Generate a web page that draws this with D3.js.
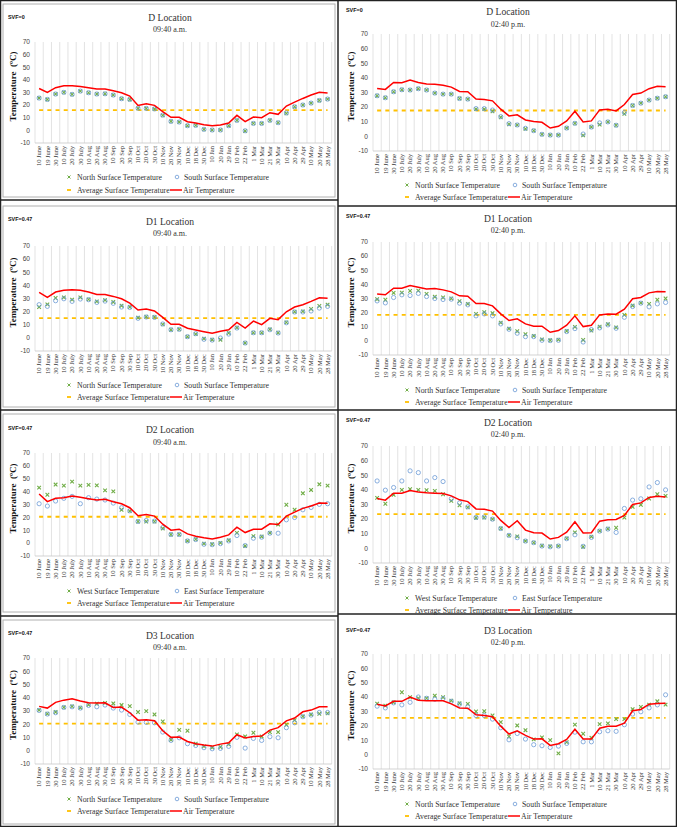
<!DOCTYPE html>
<html>
<head>
<meta charset="utf-8">
<script src="https://cdn.jsdelivr.net/npm/d3@7"></script>
<style>
  body { margin: 0; background: #fff; }
  svg { display: block; }
</style>
</head>
<body>
<svg id="chart" width="677" height="827"></svg>
<script>
const categories = ['10 June','19 June','30 June','10 July','20 July','30 July','10 Aug','20 Aug','30 Aug',
  '10 Sep','20 Sep','30 Sep','10 Oct','20 Oct','30 Oct','10 Nov','20 Nov','30 Nov','10 Dec','18 Dec','30 Dec',
  '10 Jan','20 Jan','29 Jan','10 Feb','22 Feb','1 Mar','10 Mar','21 Mar','30 Mar','10 Apr','20 Apr','29 Apr',
  '10 May','20 May','28 May'];
const yTicks = [-10, 0, 10, 20, 30, 40, 50, 60, 70];

// D location
const dAmAir   = [33.2,30.1,33.8,35.4,35.4,34.8,33.8,32.7,32.7,31.4,29.8,27.2,19.8,21.1,19.8,14.8,10.3,10.3,6.9,5.8,4.5,3.7,4.2,5.8,11.9,6.9,10.6,10.0,14.0,12.7,19.3,22.4,25.3,28.0,30.1,29.6];
const dAmNorth = [25.6,24.5,28.8,30.1,28.5,31.1,29.8,28.8,29.0,28.0,25.1,24.5,17.4,17.4,16.9,11.9,7.1,6.6,3.7,4.0,0.8,0.3,0.3,3.7,7.9,-0.5,5.5,5.5,7.9,6.1,13.5,18.7,20.1,21.6,23.7,24.8];
const dAmSouth = [25.6,24.5,28.8,30.1,28.5,31.1,29.8,28.8,29.0,28.0,25.1,24.5,17.6,17.4,17.0,12.1,7.1,6.6,3.7,4.0,0.8,0.3,0.3,3.7,7.9,-0.3,5.5,5.5,7.9,6.1,13.8,18.7,20.1,21.6,23.7,24.8];
const dPmAir   = [32.8,32.1,36.9,36.7,38.5,36.9,35.8,35.6,34.9,33.7,30.7,30.5,25.5,25.2,24.3,18.6,14.0,14.7,11.2,10.1,9.6,5.7,6.9,10.6,17.2,9.9,10.6,18.1,18.6,17.4,21.8,28.7,29.6,32.6,34.2,33.9];
const dPmNorth = [27.8,26.4,30.5,31.9,31.7,32.6,31.7,29.6,28.9,28.9,25.9,25.5,18.6,18.6,17.2,13.1,8.3,7.8,5.1,3.9,1.4,0.9,0.9,5.7,8.9,0.7,6.4,8.0,9.9,7.6,15.4,21.1,22.7,24.8,26.1,27.1];
const dPmSouth = [27.8,26.4,30.5,31.9,31.7,32.6,31.7,29.6,28.9,28.9,25.9,25.5,19.0,19.0,18.0,13.5,8.7,7.8,5.5,3.9,1.4,0.9,0.9,5.7,8.9,1.6,6.4,9.2,9.9,7.6,16.3,21.1,22.7,24.8,26.1,27.1];

// D1 location
const d1AmAir   = [34.7,30.9,34.9,36.2,36.7,36.2,34.9,33.1,33.1,31.6,29.8,26.5,21.2,22.0,20.5,15.6,10.3,10.3,7.3,6.0,4.7,3.5,5.0,6.2,11.8,7.5,12.8,10.1,14.9,13.9,19.9,23.5,25.3,27.8,30.6,30.1];
const d1AmNorth = [23.5,25.5,30.4,30.9,29.1,30.9,29.3,27.8,28.8,27.3,24.5,23.5,15.4,16.1,15.9,10.3,6.2,6.5,0.9,2.9,-0.6,-1.4,-1.4,3.7,7.8,-3.9,3.9,3.9,6.5,3.9,11.8,19.9,20.2,22.0,24.3,25.3];
const d1AmSouth = [25.3,24.0,28.3,29.8,27.8,29.6,29.1,27.0,28.0,26.3,23.5,23.2,14.9,15.9,15.6,10.6,6.2,6.5,0.9,3.2,-1.1,-1.7,-0.1,2.9,7.5,-3.9,3.9,3.9,6.2,3.7,11.5,19.7,19.7,20.5,22.7,24.0];
const d1PmAir   = [33.1,32.6,37.3,37.3,39.2,38.0,36.8,37.1,36.1,34.7,31.9,31.6,26.4,26.4,24.8,19.1,14.4,15.6,12.0,10.4,10.4,6.1,7.3,11.1,17.7,10.1,11.1,18.4,19.1,18.9,22.4,29.8,30.7,34.0,35.0,34.7];
const d1PmNorth = [29.5,29.1,34.0,34.2,35.4,35.6,33.3,31.2,30.7,30.0,28.1,26.2,19.1,20.3,19.6,12.9,8.7,6.8,4.7,3.5,1.1,0.4,0.9,7.0,9.9,0.6,7.3,10.1,11.8,9.6,18.4,25.0,26.9,26.2,29.1,30.0];
const d1PmSouth = [28.3,26.9,30.7,32.6,32.1,33.6,31.4,30.0,29.3,29.5,26.7,25.5,17.7,19.1,17.7,12.0,8.2,5.4,3.0,3.0,0.4,0.2,0.4,6.6,8.7,-0.8,8.0,9.2,11.3,8.9,16.7,24.3,26.7,24.1,26.2,27.2];

// D2 location (west / east walls)
const d2AmAir  = [38.2,32.2,34.8,35.3,36.6,35.6,34.5,33.5,34.0,32.2,30.6,27.5,21.3,22.3,21.0,14.7,10.1,10.8,7.2,5.4,4.1,3.3,4.6,6.4,12.4,8.2,10.8,10.8,15.0,14.5,21.0,24.1,27.0,28.8,31.1,30.9];
const d2AmWest = [43.1,37.6,45.5,44.7,47.8,44.7,45.2,44.9,41.0,40.2,25.9,24.9,16.8,16.8,16.8,11.4,6.7,6.7,1.7,3.0,-0.4,-0.9,0.2,2.2,8.0,-2.2,5.4,5.1,8.0,14.5,29.8,25.9,38.7,41.3,45.7,44.7];
const d2AmEast = [30.6,28.8,32.7,34.8,36.3,30.6,35.3,34.2,33.5,31.1,27.5,25.1,16.8,17.6,17.1,12.1,6.7,6.7,1.7,2.8,-0.9,-1.2,-0.4,1.7,5.9,-1.9,3.8,4.6,7.7,7.7,18.1,19.9,25.9,27.7,30.1,30.6];
const d2PmAir  = [34.1,33.0,37.7,37.7,39.5,38.6,38.0,37.7,37.5,35.9,33.2,32.0,27.0,26.8,25.5,19.1,14.3,18.9,12.5,10.7,10.5,6.4,7.5,11.1,18.2,10.5,10.7,18.6,19.5,19.8,22.5,30.0,31.1,34.8,35.7,35.2];
const d2PmWest = [34.5,30.5,36.6,40.0,40.5,40.0,39.8,39.3,37.0,32.5,29.5,28.0,20.9,21.1,20.0,13.6,8.9,8.2,5.0,3.9,1.8,1.4,1.6,6.8,10.9,1.1,8.0,12.0,13.4,14.1,21.1,28.4,29.8,34.1,37.0,35.9];
const d2PmEast = [46.1,39.8,41.6,46.1,53.0,51.8,46.1,48.4,45.7,33.9,31.1,28.4,21.1,21.4,20.0,13.6,8.9,7.3,5.0,3.9,1.6,1.1,1.6,6.6,9.3,1.4,7.5,11.8,13.2,10.9,27.3,33.0,33.9,42.0,45.0,40.0];

// D3 location
const d3AmAir   = [33.5,32.2,36.5,38.2,39.2,37.5,36.2,36.0,36.2,32.7,33.0,28.7,23.1,23.4,22.6,15.1,10.1,10.3,7.0,5.3,4.3,3.5,5.0,6.0,12.1,9.6,10.8,11.1,15.6,17.4,22.6,24.7,29.4,30.7,33.2,33.2];
const d3AmNorth = [30.7,27.9,29.2,32.7,33.5,32.5,34.7,35.5,36.0,35.7,34.5,33.7,29.2,29.9,27.4,22.1,8.3,15.8,15.1,5.3,3.3,2.5,2.8,4.8,12.3,10.8,13.6,10.8,14.1,14.1,19.6,23.1,25.9,27.4,27.9,28.2];
const d3AmSouth = [30.4,27.7,28.7,32.7,33.2,32.2,34.2,33.2,34.5,32.2,30.7,27.4,21.6,21.4,21.1,14.1,7.8,9.8,5.3,4.0,2.3,1.5,1.8,3.3,10.1,2.0,9.3,7.8,10.6,9.8,17.4,21.1,25.7,26.9,28.9,28.9];
const d3PmAir   = [35.1,33.9,37.1,37.1,40.1,37.8,37.4,37.4,37.4,35.3,32.5,32.3,27.7,27.2,26.3,19.8,14.3,16.6,13.4,10.8,11.0,6.4,7.6,10.6,17.7,10.8,10.8,18.4,19.8,19.8,21.9,30.5,31.4,35.1,35.5,35.8];
const d3PmNorth = [35.5,34.1,36.4,43.4,39.9,39.2,39.2,41.0,39.9,37.6,35.7,35.3,30.0,30.2,27.2,22.6,12.6,20.3,17.0,10.6,12.0,10.1,0.9,8.7,20.9,14.5,11.7,21.2,21.7,24.7,24.7,31.6,33.2,34.8,37.1,34.8];
const d3PmSouth = [33.7,32.5,36.0,34.6,36.4,40.1,39.2,38.5,39.0,37.1,35.1,33.2,27.2,27.2,24.7,18.7,10.3,14.7,10.8,6.9,6.2,5.0,5.9,7.8,15.6,8.9,8.9,15.9,16.6,16.2,20.8,28.2,29.8,32.5,34.6,41.6];

// average surface temperature per panel
const avgD  = [16.1, 17.7];
const avgD1 = [15.1, 18.4];
const avgD2 = [20.5, 23.4];
const avgD3 = [20.4, 25.6];

const northLabel = 'North Surface Temperature', southLabel = 'South Surface Temperature';
const westLabel = 'West Surface Temperature', eastLabel = 'East Surface Temperature';

const panels = [
  { ox: 0,   svf: 'SVF=0',    title: 'D Location',  time: '09:40 a.m.', a: dAmNorth,  b: dAmSouth,  air: dAmAir,   avg: avgD[0],  la: northLabel, lb: southLabel,
    svfY: 17,  titleY: 18,  timeY: 29,  yTop: 42,  yBot: 143, leg1: 177, leg2: 190 },
  { ox: 338, svf: 'SVF=0',    title: 'D Location',  time: '02:40 p.m.', a: dPmNorth,  b: dPmSouth,  air: dPmAir,   avg: avgD[1],  la: northLabel, lb: southLabel,
    svfY: 10,  titleY: 12,  timeY: 24,  yTop: 34,  yBot: 151, leg1: 185, leg2: 197 },
  { ox: 0,   svf: 'SVF=0.47', title: 'D1 Location', time: '09:40 a.m.', a: d1AmNorth, b: d1AmSouth, air: d1AmAir,  avg: avgD1[0], la: northLabel, lb: southLabel,
    svfY: 219, titleY: 222, timeY: 233, yTop: 246, yBot: 351, leg1: 385, leg2: 397 },
  { ox: 338, svf: 'SVF=0.47', title: 'D1 Location', time: '02:40 p.m.', a: d1PmNorth, b: d1PmSouth, air: d1PmAir,  avg: avgD1[1], la: northLabel, lb: southLabel,
    svfY: 216, titleY: 219, timeY: 230, yTop: 242, yBot: 355, leg1: 390, leg2: 402 },
  { ox: 0,   svf: 'SVF=0.47', title: 'D2 Location', time: '09:40 a.m.', a: d2AmWest,  b: d2AmEast,  air: d2AmAir,  avg: avgD2[0], la: westLabel,  lb: eastLabel,
    svfY: 428, titleY: 430, timeY: 442, yTop: 453, yBot: 556, leg1: 591, leg2: 603 },
  { ox: 338, svf: 'SVF=0.47', title: 'D2 Location', time: '02:40 p.m.', a: d2PmWest,  b: d2PmEast,  air: d2PmAir,  avg: avgD2[1], la: westLabel,  lb: eastLabel,
    svfY: 420, titleY: 423, timeY: 434, yTop: 446, yBot: 563, leg1: 598, leg2: 610 },
  { ox: 0,   svf: 'SVF=0.47', title: 'D3 Location', time: '09:40 a.m.', a: d3AmNorth, b: d3AmSouth, air: d3AmAir,  avg: avgD3[0], la: northLabel, lb: southLabel,
    svfY: 633, titleY: 636, timeY: 647, yTop: 658, yBot: 764, leg1: 799, leg2: 811 },
  { ox: 338, svf: 'SVF=0.47', title: 'D3 Location', time: '02:40 p.m.', a: d3PmNorth, b: d3PmSouth, air: d3PmAir,  avg: avgD3[1], la: northLabel, lb: southLabel,
    svfY: 630, titleY: 631, timeY: 642, yTop: 654, yBot: 769, leg1: 804, leg2: 816 }
];

const GREEN = '#70ad47', BLUE = '#6c9bd6', GOLD = '#ffc000', RED = '#ff0000';
const serif = '"Liberation Serif", "DejaVu Serif", serif';
const sans = '"Liberation Sans", Arial, sans-serif';

const svg = d3.select('#chart');

// cell borders and chart frames
const frames = svg.append('g');
frames.append('rect').attr('x', 0.5).attr('y', 0.5).attr('width', 676).attr('height', 826)
  .attr('fill', 'none').attr('stroke', '#222').attr('stroke-width', 1.5);
frames.append('line').attr('x1', 338).attr('x2', 338).attr('y1', 0).attr('y2', 827)
  .attr('stroke', '#222').attr('stroke-width', 1.5);
[200, 410, 616].forEach(yy => frames.append('line').attr('x1', 0).attr('x2', 338).attr('y1', yy).attr('y2', yy)
  .attr('stroke', '#222').attr('stroke-width', 1.5));
[206, 410, 614].forEach(yy => frames.append('line').attr('x1', 338).attr('x2', 677).attr('y1', yy).attr('y2', yy)
  .attr('stroke', '#222').attr('stroke-width', 1.5));
[[3, 4, 197], [3, 206, 407], [3, 414, 612], [3, 620, 824]].forEach(([x0, y0, y1]) =>
  frames.append('rect').attr('x', x0).attr('y', y0).attr('width', 332).attr('height', y1 - y0)
    .attr('fill', 'none').attr('stroke', '#b0b0b0').attr('stroke-width', 1));

function drawPanel(p) {
  const g = svg.append('g').attr('transform', `translate(${p.ox},0)`);
  const x = d3.scaleBand().domain(categories).range([35, 331.7]);
  const y = d3.scaleLinear().domain([-10, 70]).range([p.yBot, p.yTop]);
  const cx = c => x(c) + x.bandwidth() / 2;

  // vertical category gridlines
  const edges = categories.map(c => x(c)).concat([x.range()[1]]);
  g.append('g').selectAll('line').data(edges).join('line')
    .attr('x1', d => d).attr('x2', d => d).attr('y1', p.yTop).attr('y2', p.yBot)
    .attr('stroke', '#dcdcdc').attr('stroke-width', 0.8);
  g.append('line').attr('x1', x.range()[0]).attr('x2', x.range()[1]).attr('y1', p.yBot).attr('y2', p.yBot)
    .attr('stroke', '#c8c8c8').attr('stroke-width', 0.8);

  // y tick labels
  g.append('g').selectAll('text').data(yTicks).join('text')
    .attr('x', 30).attr('y', d => y(d)).attr('dy', '0.35em')
    .attr('text-anchor', 'end').attr('font-family', sans).attr('font-size', 6.6).attr('fill', '#444')
    .text(d => d);

  // category labels
  g.append('g').selectAll('text').data(categories).join('text')
    .attr('transform', c => `translate(${cx(c) + 2.2},${p.yBot + 3}) rotate(-90)`)
    .attr('text-anchor', 'end').attr('font-family', serif).attr('font-size', 6.5).attr('fill', '#333')
    .text(c => c);

  // y axis title
  g.append('text')
    .attr('transform', `translate(16,${(p.yTop + p.yBot) / 2 - 6}) rotate(-90)`)
    .attr('text-anchor', 'middle').attr('font-family', serif).attr('font-weight', 'bold')
    .attr('font-size', 9).attr('fill', '#111').attr('xml:space', 'preserve')
    .text('Temperature  (ºC)');

  // titles
  g.append('text').attr('x', 8).attr('y', p.svfY).attr('dy', '0.35em')
    .attr('font-family', sans).attr('font-weight', 'bold').attr('font-size', 5.4).attr('fill', '#111').text(p.svf);
  g.append('text').attr('x', 170).attr('y', p.titleY).attr('dy', '0.35em').attr('text-anchor', 'middle')
    .attr('font-family', serif).attr('font-size', 9.6).attr('fill', '#333').text(p.title);
  g.append('text').attr('x', 170).attr('y', p.timeY).attr('dy', '0.35em').attr('text-anchor', 'middle')
    .attr('font-family', serif).attr('font-size', 8).attr('fill', '#333').text(p.time);

  // average surface temperature
  g.append('line')
    .attr('x1', cx(categories[0])).attr('x2', cx(categories[categories.length - 1]))
    .attr('y1', y(p.avg)).attr('y2', y(p.avg))
    .attr('stroke', GOLD).attr('stroke-width', 1.8).attr('stroke-dasharray', '4,4.2');

  // surface A (x markers)
  g.append('g').selectAll('path').data(p.a).join('path')
    .attr('transform', (d, i) => `translate(${cx(categories[i])},${y(d)})`)
    .attr('d', 'M-1.8,-1.8L1.8,1.8M-1.8,1.8L1.8,-1.8')
    .attr('stroke', GREEN).attr('stroke-width', 1.1);

  // surface B (circles)
  g.append('g').selectAll('circle').data(p.b).join('circle')
    .attr('cx', (d, i) => cx(categories[i])).attr('cy', d => y(d)).attr('r', 2.1)
    .attr('fill', 'none').attr('stroke', BLUE).attr('stroke-width', 0.8);

  // air temperature
  const line = d3.line().x((d, i) => cx(categories[i])).y(d => y(d));
  g.append('path').datum(p.air).attr('d', line)
    .attr('fill', 'none').attr('stroke', RED).attr('stroke-width', 1.5);

  // legend
  const leg = g.append('g').attr('font-family', serif).attr('font-size', 7.8).attr('fill', '#333');
  leg.append('path').attr('transform', `translate(69,${p.leg1})`)
    .attr('d', 'M-1.5,-1.5L1.5,1.5M-1.5,1.5L1.5,-1.5').attr('stroke', GREEN).attr('stroke-width', 1);
  leg.append('text').attr('x', 77).attr('y', p.leg1).attr('dy', '0.35em').text(p.la);
  leg.append('circle').attr('cx', 177).attr('cy', p.leg1).attr('r', 1.8)
    .attr('fill', 'none').attr('stroke', BLUE).attr('stroke-width', 0.8);
  leg.append('text').attr('x', 184).attr('y', p.leg1).attr('dy', '0.35em').text(p.lb);
  leg.append('line').attr('x1', 67).attr('x2', 71).attr('y1', p.leg2).attr('y2', p.leg2)
    .attr('stroke', GOLD).attr('stroke-width', 1.8);
  leg.append('text').attr('x', 77).attr('y', p.leg2).attr('dy', '0.35em').text('Average Surface Temperature');
  leg.append('line').attr('x1', 170).attr('x2', 182).attr('y1', p.leg2).attr('y2', p.leg2)
    .attr('stroke', RED).attr('stroke-width', 1.5);
  leg.append('text').attr('x', 183).attr('y', p.leg2).attr('dy', '0.35em').text('Air Temperature');
}

panels.forEach(drawPanel);
</script>
</body>
</html>
